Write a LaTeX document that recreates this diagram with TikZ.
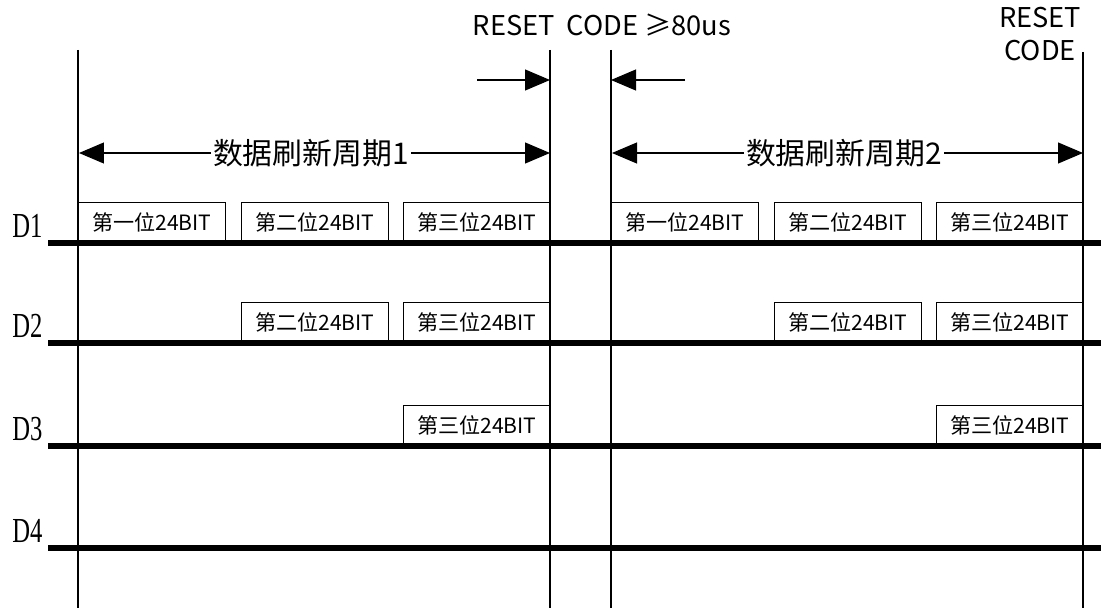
\documentclass[tikz,border=0pt]{standalone}
\usepackage{fontspec}
\newfontfamily\cjk{Noto Sans CJK SC}
\newfontfamily\dfont{Liberation Serif}
\usetikzlibrary{arrows.meta}

\begin{document}
\begin{tikzpicture}[x=0.02cm, y=-0.02cm,
		bitbox/.style={draw, fill=white, anchor=south west, inner sep=0pt, minimum width=2.94cm, minimum height=0.8cm, font=\cjk\fontsize{12}{14}\selectfont},
		sigline/.style={line width=3.2pt},
		tline/.style={line width=0.8pt},
		bigtip/.style={line width=0.6pt, -{Triangle[length=0.5cm, width=0.42cm]}},
		period/.style={inner sep=1pt, font=\cjk\fontsize{17}{20}\selectfont},
		rtext/.style={inner sep=0pt, font=\cjk\fontsize{15.5}{15.5}\selectfont}]
			\useasboundingbox (0,0) rectangle (1101,608);
			% 数据位
			\foreach \r/\y in {1/243, 2/343, 3/446}
			\foreach \h/\dx in {1/0, 2/533}
			\foreach \c/\ord/\x in {1/一/78, 2/二/241, 3/三/403}{
				\ifnum\c<\r\else
				\node[bitbox] (b\r\c\h) at (\x+\dx, \y) {第{\ord}位24BIT};
				\fi
			}
			% 信号线
			\foreach \y/\n in {243/1, 343/2, 446/3, 548/4}{
				\draw[sigline] (48, \y) -- (1101, \y);
				\node[anchor=base west, inner sep=0pt, font=\dfont\fontsize{20}{22}\selectfont] (d\n) at (12, \y-6) {\scalebox{0.7}[1]{D\n}};
			}
			% 竖线
			\foreach \x/\t in {78/50, 550/50, 611/50, 1083/52}
			\draw[tline] (\x, \t) -- (\x, 608);
			% 刷新周期
			\foreach \n/\dx in {1/0, 2/533}{
				\node[period] (p\n) at (311+\dx, 153) {数据刷新周期\n};
				\coordinate (pl\n) at (79+\dx, 153);
				\coordinate (pr\n) at (550+\dx, 153);
				\draw[bigtip] (p\n.west) -- (pl\n);
				\draw[bigtip] (p\n.east) -- (pr\n);
			}
			% 复位码
			\node[rtext] (rc) at (602, 25) {RESET\ \ CODE\ ≥80us};
			\node[rtext, align=center] (rc2) at (1040, 34) {RESET\\[3pt]CODE};
			\coordinate (ra) at (477, 80);
			\coordinate (rb) at (550, 80);
			\coordinate (rc3) at (685, 80);
			\coordinate (rd) at (611, 80);
			\draw[bigtip] (ra) -- (rb);
			\draw[bigtip] (rc3) -- (rd);
		\end{tikzpicture}
\end{document}
